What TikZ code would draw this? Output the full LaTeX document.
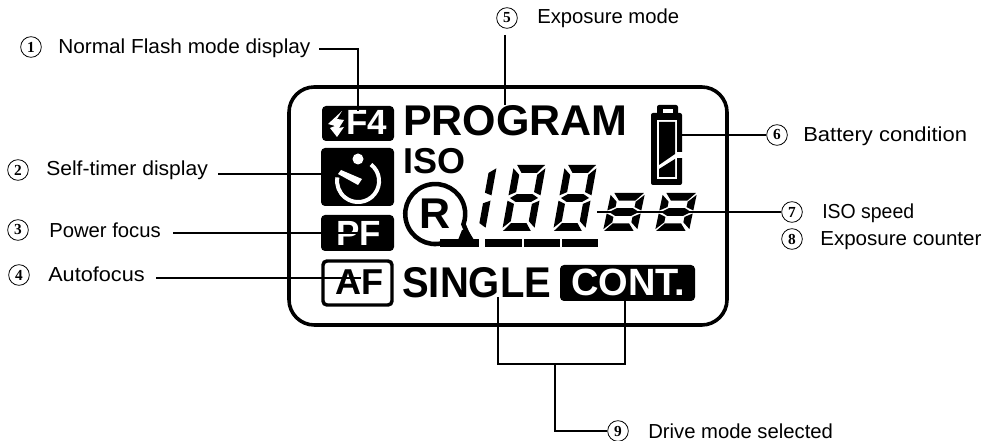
\documentclass[tikz,border=0pt]{standalone}
\usepackage{fontspec}
\setmainfont{Liberation Sans}
\newfontfamily\numfont{Liberation Serif}
\newcommand{\pxf}[1]{\fontsize{\the\dimexpr #1pt*3/4\relax}{\the\dimexpr #1pt\relax}\selectfont}
\newcommand{\labfont}{\fontsize{15.2pt}{16pt}\selectfont}
\newcommand{\segset}{%
  \fill (.10,0)--(.97,0)--(.76,\hh)--(.28,\hh)--cycle;
  \fill (.06,.5)--(.26,{.5-\hh/2})--(.74,{.5-\hh/2})--(.94,.5)--(.74,{.5+\hh/2})--(.26,{.5+\hh/2})--cycle;
  \fill (.24,{1-\hh})--(.72,{1-\hh})--(.90,1)--(.03,1)--cycle;
  \fill (0,.05)--(.22,{\hh+.03})--(.22,{.5-\hh/2-.03})--(0,.46)--cycle;
  \fill (0,.54)--(.22,{.5+\hh/2+.03})--(.22,{1-\hh-.03})--(0,.95)--cycle;
  \fill (1,.05)--(.78,{\hh+.03})--(.78,{.5-\hh/2-.03})--(1,.46)--cycle;
  \fill (1,.54)--(.78,{.5+\hh/2+.03})--(.78,{1-\hh-.03})--(1,.95)--cycle;}
\newcommand{\segeight}[6]{\begin{scope}[shift={(#1,#2)},x={(#3*0.75pt,0pt)},y={(#5*-0.75pt,#4*-0.75pt)}]\def\hh{#6}\segset\end{scope}}
\newcommand{\segone}[5]{\begin{scope}[shift={(#1,#2)},x={(#3*0.75pt,0pt)},y={(#5*-0.75pt,#4*-0.75pt)}]
  \fill (1,.05)--(.78,.12)--(.78,.42)--(1,.46)--cycle;
  \fill (1,.54)--(.78,.58)--(.78,.88)--(1,.95)--cycle;\end{scope}}
\tikzset{
  leader/.style={draw=black,line width=0.9pt},
  numc/.style={circle,draw=black,line width=0.6pt,minimum size=15.5pt,inner sep=0pt,font=\numfont\bfseries\fontsize{11.5pt}{12pt}\selectfont},
  lab/.style={anchor=base west,inner sep=0pt,font=\labfont,transform shape},
  lcd/.style={anchor=base west,inner sep=0pt,font=\pxf{43}\bfseries,transform shape},
  lcdw/.style={anchor=base west,inner sep=0pt,text=white,font=\pxf{35}\bfseries},
  blackbox/.style={fill=black,rounded corners=3pt}
}
\begin{document}
\begin{tikzpicture}[x=0.75pt,y=-0.75pt]
\useasboundingbox (0,0) rectangle (985,441);
% display frame
\draw[line width=2.7pt,rounded corners=19pt] (289,87) rectangle (727,325);
% left icons
\fill[blackbox] (322,106) rectangle (394,141);
\fill[white] (342,111)--(328,124)--(335,126)--(330,128)--(337,137)--(344,127)--(339,128)--(344,120)--(337,119)--cycle;
\node[lcdw] (f4) at (346,135) {F4};
\fill[blackbox] (321,148) rectangle (394,206);
\fill[white] (358,159) circle (5.5);
\draw[white,line width=3pt] (371,164.5) arc[start angle=-52,end angle=190,x radius=21,y radius=21];
\fill[white] (338,174)--(341,170)--(362,179)--(358,185)--cycle;
\fill[blackbox] (321,215) rectangle (394,251);
\node[lcdw] (pf) at (336,246) {PF};
\draw[line width=2.6pt,rounded corners=3pt] (323,261) rectangle (392,305);
\node[anchor=base west,inner sep=0pt,font=\pxf{36}\bfseries] (af) at (335,295) {AF};
% words
\node[lcd] (program) at (403,136) {PROGRAM};
\node[anchor=base west,inner sep=0pt,font=\pxf{36}\bfseries] (iso) at (403,174) {ISO};
\node[lcd,xscale=0.93] (single) at (402,298) {SINGLE};
\fill[blackbox] (560,265) rectangle (695,301);
\node[anchor=base west,inner sep=0pt,text=white,font=\pxf{38}\bfseries] (cont) at (571,296) {CONT.};
% R mark
\draw[line width=3.4pt] (443,243) arc[start angle=75,end angle=380,x radius=30,y radius=30]
  -- (470,240);
\node[anchor=base,inner sep=0pt,font=\pxf{43}\bfseries] (r) at (435,229) {R};
\fill (440,239) rectangle (479,247);
\fill (462,230) -- (468,230) -- (474,240) -- (458,240) -- cycle;
% digits
\segone{465}{165}{32}{66}{12}
\segeight{514}{165}{32}{66}{12}{.12}
\segeight{565}{165}{32}{66}{12}{.12}
\segeight{611}{193}{34}{38}{8}{.2}
\segeight{663}{193}{34}{38}{8}{.2}
\fill (485,239) rectangle (522,247);
\fill (524,239) rectangle (560,247);
\fill (562,239) rectangle (598,247);
% battery
\fill[rounded corners=1.5pt] (651,113) rectangle (682,185);
\fill[rounded corners=1.5pt] (657,105) rectangle (678,115);
\fill[white] (663,109) rectangle (673,113);
\fill[white] (657,120) rectangle (677,179);
\fill (659,122) -- (675,122) -- (675,154) -- (659,165) -- cycle;
\fill (659,169) -- (675,159) -- (675,177) -- (659,177) -- cycle;
\fill[white] (676,152) rectangle (683,158);
% circled numbers and texts
\node[numc] (n1) at (31,47) {1};
\node[lab,xscale=1.027] (t1) at (58,54) {Normal Flash mode display};
\node[numc] (n2) at (18,170) {2};
\node[lab,xscale=1.04] (t2) at (46,176) {Self-timer display};
\node[numc] (n3) at (18,230) {3};
\node[lab] (t3) at (49,238) {Power focus};
\node[numc] (n4) at (19,275) {4};
\node[lab,xscale=1.07] (t4) at (48,282) {Autofocus};
\node[numc] (n5) at (507,18) {5};
\node[lab] (t5) at (537,24) {Exposure mode};
\node[numc] (n6) at (777,135) {6};
\node[lab,xscale=1.085] (t6) at (803,142) {Battery condition};
\node[numc] (n7) at (792,212) {7};
\node[lab,xscale=0.96] (t7) at (822,219) {ISO speed};
\node[numc] (n8) at (792,239) {8};
\node[lab,xscale=1.015] (t8) at (820,246) {Exposure counter};
\node[numc] (n9) at (618,431) {9};
\node[lab] (t9) at (648,438) {Drive mode selected};
% connector ends
\coordinate (e1s) at (319,49); \coordinate (e1) at (358,111);
\coordinate (e2s) at (218,174); \coordinate (e2) at (322,174);
\coordinate (e3s) at (173,233); \coordinate (e3) at (361,233);
\coordinate (e4s) at (156,278); \coordinate (e4) at (361,278);
\coordinate (e5s) at (505,35); \coordinate (e5) at (505,105);
\coordinate (e6) at (677,135);
\coordinate (e7) at (597,212);
\coordinate (gl) at (498,297); \coordinate (gr) at (625,300);
\coordinate (brl) at (498,364); \coordinate (brr) at (625,364);
\coordinate (brm) at (555,364);
\draw[leader] (e1s) -| (e1);
\draw[leader] (e2s) -- (e2);
\draw[leader] (e3s) -- (e3);
\draw[leader] (e4s) -- (e4);
\draw[leader] (e5s) -- (e5);
\draw[leader] (e6) -- (n6);
\draw[leader] (e7) -- (n7);
\draw[leader] (gl) -- (brl) -- (brr) -- (gr);
\draw[leader] (brm) |- (n9);
\end{tikzpicture}
\end{document}
